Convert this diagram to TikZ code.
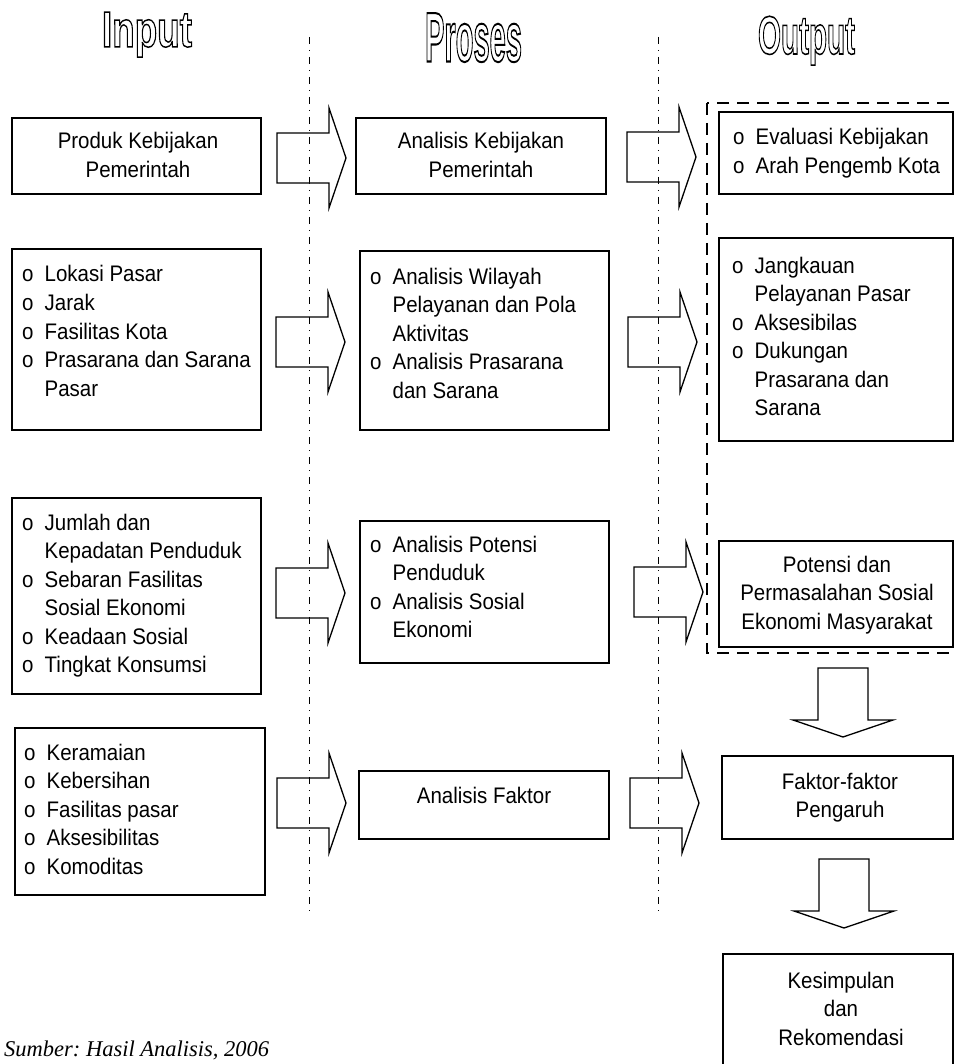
\documentclass[tikz,border=0pt]{standalone}
\usepackage{fontspec}
\usepackage{graphicx}
\setmainfont{Liberation Sans}[FakeStretch=0.91]
\newfontfamily\headfont{Liberation Sans}
\newfontfamily\srcfont{Liberation Serif}
\newcommand\bu{\makebox[22.5pt][l]{o}}
\newcommand\hg{\hspace*{22.5pt}}
\newcommand\Ll[1]{\vtop{\halign{##\hfil\cr#1\crcr}}}
\newcommand\Lc[1]{\vtop{\halign{\hfil##\hfil\cr#1\crcr}}}
\newcommand\outl[1]{\special{pdf:literal direct q 1 Tr 1.6 w}#1\special{pdf:literal direct Q}}
\frenchspacing
\begin{document}
\begin{tikzpicture}[x=1pt,y=-1pt,
  box/.style={draw, line width=1.8pt, inner sep=0pt, rectangle},
  txt/.style={inner sep=0pt, font=\fontsize{22.5}{28.5}\selectfont},
  blk/.style={line width=1.3pt, line join=miter},
  divider/.style={line width=0.9pt, dash pattern=on 7pt off 6pt on 1pt off 6pt},
  dashbox/.style={line width=2.4pt, dash pattern=on 12pt off 8pt},
  hd/.style={inner sep=0pt, anchor=north, font=\headfont\bfseries\fontsize{55}{60}\selectfont},
  rarrow/.pic={\draw[blk] (0,-25) -- (52,-25) -- (52,-50) -- (69,0) -- (52,50) -- (52,25) -- (0,25) -- cycle;},
  darrow/.pic={\draw[blk] (-25,0) -- (-25,52) -- (-50,52) -- (0,69) -- (50,52) -- (25,52) -- (25,0) -- cycle;}
]
\useasboundingbox (0,0) rectangle (955,1064);
\clip (0,0) rectangle (955,1064);

% dividers
\coordinate (d1t) at (309,37);
\coordinate (d1b) at (309,913);
\coordinate (d2t) at (658,37);
\coordinate (d2b) at (658,913);
\draw[divider] (d1t) -- (d1b);
\draw[divider] (d2t) -- (d2b);

% dashed output frame
\draw[dashbox] (707,103) rectangle (968,653);

% boxes
\node[box, minimum width=249pt, minimum height=76pt] (b1) at (136.5,156) {};
\node[box, minimum width=250pt, minimum height=76pt] (b2) at (481,156) {};
\node[box, minimum width=234pt, minimum height=82pt] (b3) at (836,153) {};
\node[box, minimum width=249pt, minimum height=181pt] (b4) at (136.5,339.5) {};
\node[box, minimum width=249pt, minimum height=179pt] (b5) at (484.5,340.5) {};
\node[box, minimum width=234pt, minimum height=203pt] (b6) at (836,339.5) {};
\node[box, minimum width=249pt, minimum height=196pt] (b7) at (136.5,596) {};
\node[box, minimum width=249pt, minimum height=142pt] (b8) at (484.5,592) {};
\node[box, minimum width=234pt, minimum height=106pt] (b9) at (836,594) {};
\node[box, minimum width=250pt, minimum height=167pt] (b10) at (140,811.5) {};
\node[box, minimum width=250pt, minimum height=68pt] (b11) at (484,805) {};
\node[box, minimum width=231pt, minimum height=83pt] (b12) at (837.5,797.5) {};
\node[box, minimum width=230pt, minimum height=140pt] (b13) at (838,1024) {};

% texts
\node[txt, anchor=base] (t1) at (138,149) {\Lc{Produk Kebijakan\cr Pemerintah}};
\node[txt, anchor=base] (t2) at (481,149) {\Lc{Analisis Kebijakan\cr Pemerintah}};
\node[txt, anchor=base west] (t3) at (733,145) {\Ll{\bu Evaluasi Kebijakan\cr \bu Arah Pengemb Kota}};
\node[txt, anchor=base west] (t4) at (22,282) {\Ll{\bu Lokasi Pasar\cr \bu Jarak\cr \bu Fasilitas Kota\cr \bu Prasarana dan Sarana\cr \hg Pasar}};
\node[txt, anchor=base west] (t5) at (370,284) {\Ll{\bu Analisis Wilayah\cr \hg Pelayanan dan Pola\cr \hg Aktivitas\cr \bu Analisis Prasarana\cr \hg dan Sarana}};
\node[txt, anchor=base west] (t6) at (732,273) {\Ll{\bu Jangkauan\cr \hg Pelayanan Pasar\cr \bu Aksesibilas\cr \bu Dukungan\cr \hg Prasarana dan\cr \hg Sarana}};
\node[txt, anchor=base west] (t7) at (22,530) {\Ll{\bu Jumlah dan\cr \hg Kepadatan Penduduk\cr \bu Sebaran Fasilitas\cr \hg Sosial Ekonomi\cr \bu Keadaan Sosial\cr \bu Tingkat Konsumsi}};
\node[txt, anchor=base west] (t8) at (370,552) {\Ll{\bu Analisis Potensi\cr \hg Penduduk\cr \bu Analisis Sosial\cr \hg Ekonomi}};
\node[txt, anchor=base] (t9) at (837,572) {\Lc{Potensi dan\cr Permasalahan Sosial\cr Ekonomi Masyarakat}};
\node[txt, anchor=base west] (t10) at (24,760) {\Ll{\bu Keramaian\cr \bu Kebersihan\cr \bu Fasilitas pasar\cr \bu Aksesibilitas\cr \bu Komoditas}};
\node[txt, anchor=base] (t11) at (484,803) {Analisis Faktor};
\node[txt, anchor=base] (t12) at (840,789) {\Lc{Faktor-faktor\cr Pengaruh}};
\node[txt, anchor=base] (t13) at (841,988) {\Lc{Kesimpulan\cr dan\cr Rekomendasi}};

% block arrows
\pic at (277,158) {rarrow};
\pic at (627,157) {rarrow};
\pic at (276,342) {rarrow};
\pic at (628,342) {rarrow};
\pic at (276,593) {rarrow};
\pic at (634,592) {rarrow};
\pic at (277,803) {rarrow};
\pic at (630,803) {rarrow};
\pic at (843,668) {darrow};
\pic at (844,859) {darrow};

% source
\node[anchor=base west, inner sep=0pt, font=\srcfont\itshape\fontsize{22.5}{27}\selectfont] (src) at (4,1056) {Sumber: Hasil Analisis, 2006};

% headers (outlined)
\node[hd] (hin) at (147,12) {\outl{\resizebox*{90pt}{45pt}{Input}}};
\node[hd] (hpr) at (473.5,13) {\outl{\resizebox*{97pt}{49pt}{Proses}}};
\node[hd] (hout) at (806.5,16) {\outl{\resizebox*{97pt}{49pt}{Output}}};
\end{tikzpicture}
\end{document}
